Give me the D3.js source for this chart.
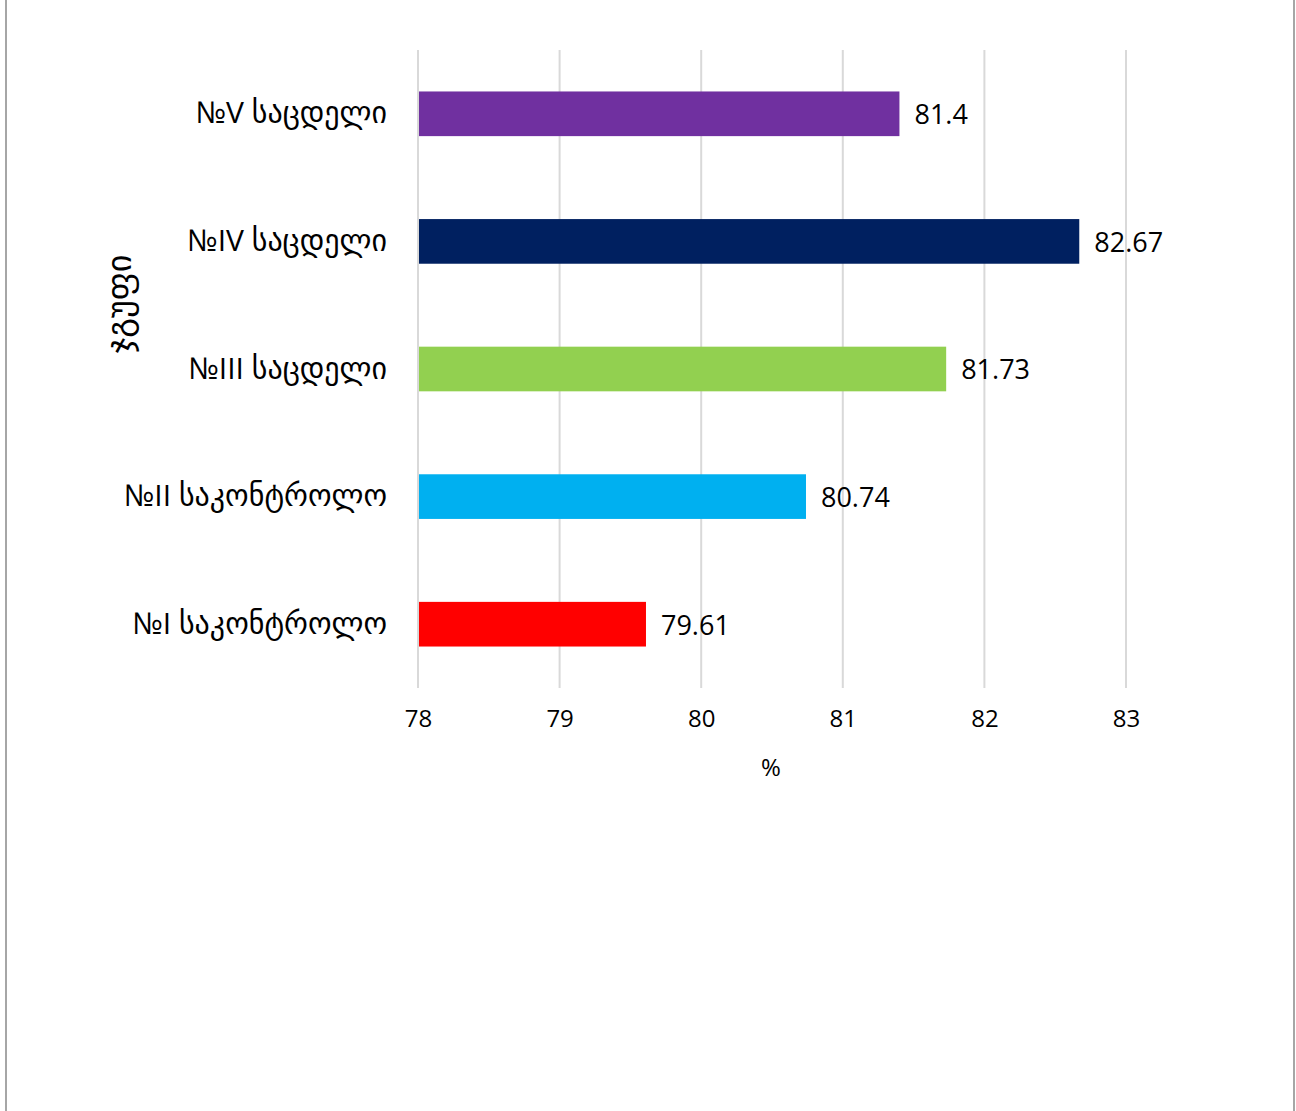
<!DOCTYPE html>
<html>
<head>
<meta charset="utf-8">
<script src="https://cdn.jsdelivr.net/npm/d3@7"></script>
<style>
	body { margin: 0; background: #fff; }
	svg text { font-family: "Open Sans", "DejaVu Sans", sans-serif; fill: #000; }
</style>
</head>
<body>
<div id="vis"></div>
<script>
// chart data, bottom to top as in the picture
var groups = ['№I საკონტროლო', '№II საკონტროლო', '№III საცდელი', '№IV საცდელი', '№V საცდელი'];
var values = [79.61, 80.74, 81.73, 82.67, 81.4];
var labels = ['79.61', '80.74', '81.73', '82.67', '81.4'];
var colours = ['#FF0000', '#00B0F0', '#92D050', '#002060', '#7030A0'];
var xTicks = [78, 79, 80, 81, 82, 83];

var width = 1296, height = 1111;
var margin = { top: 50, right: 170, bottom: 423, left: 418 };

var svg = d3.select('#vis').append('svg')
	.attr('width', width)
	.attr('height', height);

// outer frame (only the sides show in the picture)
svg.append('line').attr('x1', 6).attr('y1', 0).attr('x2', 6).attr('y2', height)
	.attr('stroke', '#a6a6a6').attr('stroke-width', 2);
svg.append('line').attr('x1', 1294).attr('y1', 0).attr('x2', 1294).attr('y2', height)
	.attr('stroke', '#a6a6a6').attr('stroke-width', 2);

var x = d3.scaleLinear()
	.domain([78, 83])
	.range([margin.left, width - margin.right]);

var y = d3.scaleBand()
	.domain(groups.slice().reverse())
	.range([margin.top, height - margin.bottom])
	.paddingInner(0.65)
	.paddingOuter(0.325);

// gridlines
svg.append('g')
	.selectAll('line')
	.data(xTicks)
	.enter().append('line')
	.attr('x1', function(d) { return x(d); })
	.attr('x2', function(d) { return x(d); })
	.attr('y1', margin.top)
	.attr('y2', height - margin.bottom)
	.attr('stroke', '#d9d9d9')
	.attr('stroke-width', 2);

// x axis tick labels
var xAxis = svg.append('g')
	.attr('transform', 'translate(0,' + (height - margin.bottom) + ')')
	.call(d3.axisBottom(x).tickValues(xTicks).tickSize(0).tickPadding(22).tickFormat(d3.format('d')));
xAxis.select('.domain').remove();
xAxis.selectAll('text')
	.attr('font-size', 24)
	.style('font-family', '"Open Sans", sans-serif');

// y axis category labels
var yAxis = svg.append('g')
	.attr('transform', 'translate(' + margin.left + ',0)')
	.call(d3.axisLeft(y).tickSize(0).tickPadding(31));
yAxis.select('.domain').remove();
yAxis.selectAll('text')
	.attr('font-size', 30)
	.style('font-family', '"Open Sans", "DejaVu Sans", sans-serif');

// bars
var data = groups.map(function(g, i) {
	return { group: g, value: values[i], label: labels[i], colour: colours[i] };
});

svg.append('g')
	.selectAll('rect')
	.data(data)
	.enter().append('rect')
	.attr('x', x(78) + 1)
	.attr('y', function(d) { return y(d.group); })
	.attr('width', function(d) { return x(d.value) - x(78) - 1; })
	.attr('height', y.bandwidth())
	.attr('fill', function(d) { return d.colour; });

// value labels
svg.append('g')
	.selectAll('text')
	.data(data)
	.enter().append('text')
	.attr('x', function(d) { return x(d.value) + 15; })
	.attr('y', function(d) { return y(d.group) + y.bandwidth() / 2 + 1; })
	.attr('dy', '0.35em')
	.attr('font-size', 27)
	.text(function(d) { return d.label; });

// axis titles
svg.append('text')
	.attr('x', 771)
	.attr('y', 768)
	.attr('dy', '0.35em')
	.attr('text-anchor', 'middle')
	.attr('font-size', 24)
	.text('%');

svg.append('text')
	.attr('transform', 'translate(119,304) rotate(-90)')
	.attr('dy', '0.35em')
	.attr('text-anchor', 'middle')
	.attr('font-size', 34)
	.text('ჯგუფი');
</script>
</body>
</html>
